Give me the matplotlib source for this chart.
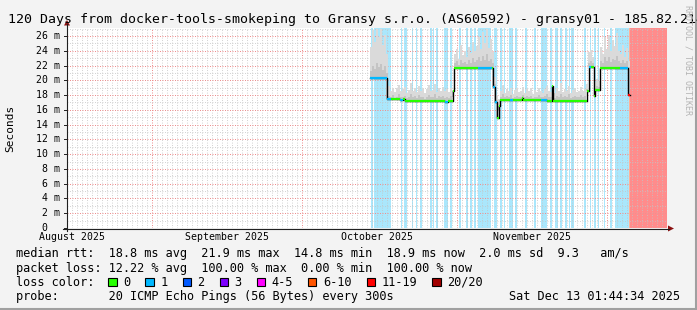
#!/usr/bin/env python3
from datetime import datetime

import matplotlib
matplotlib.use("Agg")
import matplotlib.pyplot as plt
from matplotlib.lines import Line2D
from matplotlib.patches import Polygon, Rectangle

W, H = 697, 310
FONT = "DejaVu Sans Mono"

# time axis: days since the graph start
START = datetime(2025, 8, 15, 1, 44, 34)
SPAN_DAYS = 120
MONTH_STARTS = [datetime(2025, 9, 1), datetime(2025, 10, 1), datetime(2025, 11, 1), datetime(2025, 12, 1)]
MONTH_LABEL_DATES = [datetime(2025, 8, 16), datetime(2025, 9, 16), datetime(2025, 10, 16), datetime(2025, 11, 16)]
MONTH_LABELS = ["August 2025", "September 2025", "October 2025", "November 2025"]

Y_TICKS = [0, 2, 4, 6, 8, 10, 12, 14, 16, 18, 20, 22, 24, 26]
Y_TICK_LABELS = [" 0", " 2 m", " 4 m", " 6 m", " 8 m", "10 m", "12 m", "14 m", "16 m",
                 "18 m", "20 m", "22 m", "24 m", "26 m"]

# loss background stripes (days since start)
LOSS_START = [60.8, 61.4, 66.7, 67.4, 68.9, 69.8, 70.6, 72.6, 73.1, 73.7, 75.4, 76.6, 78.3,
              79.8, 80.6, 81.3, 82.1, 85.3, 86.6, 87.3, 88.3, 88.6, 89.6, 91.6, 93.3, 94.8,
              96.6, 97.6, 98.6, 99.6, 100.3, 100.7, 103.4, 104.5, 105.4, 106.1, 107.3, 108.6,
              109.6, 112.4, 112.6]
LOSS_END = [61.2, 64.8, 67.1, 67.9, 69.3, 70.0, 70.9, 72.9, 73.4, 74.2, 76.2, 76.9, 78.7,
            80.1, 80.9, 81.7, 84.8, 85.9, 86.9, 87.5, 88.5, 89.1, 89.9, 91.9, 93.7, 95.9,
            96.9, 98.1, 98.9, 99.9, 100.5, 101.4, 103.8, 104.8, 105.8, 106.3, 107.6, 108.9,
            112.4, 112.6, 120.0]
LOSS_LEVEL = ["1"] * 39 + ["6-10", "20/20"]

# median rtt (ms), step values
MED_DAY = [60.6, 64.0, 64.8, 66.6, 67.2, 67.6, 75.5, 76.2, 77.2, 77.4, 82.2, 85.0, 85.2,
           85.6, 86.0, 86.4, 86.6, 88.6, 89.1, 91.0, 91.2, 94.8, 95.9, 96.9, 97.1, 103.9,
           104.4, 104.8, 105.3, 105.5, 106.5, 110.6, 112.2]
MED_VAL = [20.3, 17.45, 17.45, 17.4, 17.45, 17.25, 17.1, 17.25, 18.5, 21.65, 21.65, 21.65,
           19.1, 17.0, 14.9, 16.5, 17.3, 17.3, 17.3, 17.6, 17.3, 17.3, 17.25, 19.2, 17.25,
           18.55, 21.75, 21.75, 17.9, 18.65, 21.6, 21.6, 18.0]
MED_LOSS = ["1", "1", "0", "1", "0", "0", "1", "0", "0", "0", "1", "0", "1", "1", "0", "0",
            "0", "1", "0", "0", "0", "1", "0", "0", "0", "0", "1", "0", "0", "0", "0", "1",
            "11-19"]
MED_END = 112.6

# smoke (ping spread), one value per rrd step
SMOKE_START = 60.6
SMOKE_STEP = 0.4
SMOKE_MAX = [
    24.5, 26.8, 25.2, 27.0, 25.8, 26.9, 24.8, 26.2, 23.5,
    19.2, 18.6, 19.0, 18.4, 18.9, 19.4, 18.5, 18.8, 19.1, 18.3, 18.7, 19.6, 18.5, 18.9, 18.4,
    19.2, 18.6, 19.0, 18.3, 18.8, 19.3, 18.5, 18.7, 19.5, 18.4, 18.9, 18.6, 19.1, 18.5, 18.8,
    18.4, 19.0, 18.6,
    23.6, 24.2, 22.9, 24.8, 23.4, 24.0, 23.1, 24.5, 23.7, 25.2, 23.9, 24.6, 25.8, 24.3, 26.5,
    25.0, 26.9, 24.4, 25.6, 23.8,
    20.5, 18.0, 17.5,
    18.6, 19.4, 18.3, 18.8, 18.5, 19.0, 18.2, 18.7, 18.9, 18.4, 18.6, 19.1, 18.3, 18.8, 18.5,
    18.9, 18.2, 18.7, 18.4, 19.0, 18.6, 18.3, 18.8, 19.2, 18.5, 18.4, 18.7, 18.3, 18.9, 18.6,
    19.6, 18.4, 18.8, 18.5, 19.2, 18.3, 18.7, 18.9, 18.4, 18.6, 19.1, 18.5, 18.8,
    19.5, 23.8,
    24.1, 23.2, 19.8, 20.2, 19.9, 24.5, 23.6, 25.8, 24.2, 26.1, 23.9, 25.4, 24.6, 26.4, 24.0,
    23.5, 24.8, 23.2, 24.4, 22.6,
]
SMOKE_MID = [
    21.3, 22.0, 21.5, 22.4, 21.8, 22.2, 21.4, 21.9, 21.0,
    17.9, 17.7, 18.0, 17.6, 17.8, 18.1, 17.7, 17.8, 17.9, 17.6, 17.8, 18.2, 17.7, 17.9, 17.6,
    18.0, 17.7, 17.8, 17.5, 17.8, 18.0, 17.7, 17.8, 18.1, 17.6, 17.9, 17.7, 17.9, 17.6, 17.8,
    17.6, 17.9, 17.7,
    22.3, 22.6, 22.1, 22.8, 22.3, 22.5, 22.2, 22.7, 22.4, 23.0, 22.5, 22.7, 23.1, 22.6, 23.3,
    22.8, 23.5, 22.6, 22.9, 22.3,
    19.5, 17.4, 16.0,
    17.8, 18.1, 17.7, 17.9, 17.8, 18.0, 17.6, 17.8, 17.9, 17.7, 17.8, 18.0, 17.7, 17.9, 17.8,
    17.9, 17.6, 17.8, 17.7, 18.0, 17.8, 17.7, 17.9, 18.1, 17.8, 17.7, 17.8, 17.6, 17.9, 17.8,
    18.2, 17.7, 17.9, 17.8, 18.1, 17.6, 17.8, 17.9, 17.7, 17.8, 18.0, 17.7, 17.9,
    18.8, 22.4,
    22.6, 22.3, 19.0, 19.2, 19.1, 22.6, 22.4, 23.1, 22.6, 23.2, 22.5, 22.9, 22.7, 23.3, 22.6,
    22.4, 22.8, 22.3, 22.6, 21.8,
]

LEGEND_LOSS = ["0", "1", "2", "3", "4-5", "6-10", "11-19", "20/20"]
LOSS_COLORS = {"0": "#26ff00", "1": "#00b8ff", "2": "#0059ff", "3": "#7e00ff",
               "4-5": "#ff00ff", "6-10": "#ff5500", "11-19": "#ff0000", "20/20": "#a10000"}
LOSS_BG = {"1": "#aae7fc", "6-10": "#ffb29a", "20/20": "#ff8c8c"}

TITLE = "120 Days from docker-tools-smokeping to Gransy s.r.o. (AS60592) - gransy01 - 185.82.214.1"
STATS = [
    "median rtt:  18.8 ms avg  21.9 ms max  14.8 ms min  18.9 ms now  2.0 ms sd  9.3   am/s",
    "packet loss: 12.22 % avg  100.00 % max  0.00 % min  100.00 % now",
]
PROBE = "probe:       20 ICMP Echo Pings (56 Bytes) every 300s"
STAMP = "Sat Dec 13 01:44:34 2025"


def days(dt):
    return (dt - START).total_seconds() / 86400.0


def fx(x):
    return x / W


def fy(y):
    return 1 - y / H


def median_at(d):
    val = MED_VAL[0]
    for start, v in zip(MED_DAY, MED_VAL):
        if d >= start:
            val = v
    return val


fig = plt.figure(figsize=(W / 100, H / 100), dpi=100)
fig.patch.set_facecolor("#f3f3f3")

PX_PER_MS = 7.385
top_px = 27.7
ax = fig.add_axes([fx(67), fy(228), 600 / W, (228 - top_px) / H])
ax.set_xlim(0, SPAN_DAYS)
ax.set_ylim(0, (228 - top_px) / PX_PER_MS)
ax.set_facecolor("white")
for s in ax.spines.values():
    s.set_visible(False)
ax.set_xticks([])
ax.set_yticks([])

# loss stripes
for a, b, lvl in zip(LOSS_START, LOSS_END, LOSS_LEVEL):
    ax.axvspan(a, b, color=LOSS_BG[lvl], lw=0, zorder=1, antialiased=False)

# grid
dot = (0, (1, 2))
month_days = [days(m) for m in MONTH_STARTS]
d0 = days(datetime(2025, 8, 16))
k = 0
while d0 + k < SPAN_DAYS:
    d = d0 + k
    if all(abs(d - m) > 0.01 for m in month_days):
        ax.axvline(d, color="#c4c4c4", lw=0.6, ls=dot, zorder=2)
    k += 1
for m in month_days:
    ax.axvline(m, color="#ee9090", lw=0.72, ls=(0, (1, 1.5)), zorder=2)
for v in range(1, 28):
    if v % 2:
        ax.axhline(v, color="#c4c4c4", lw=0.6, ls=dot, zorder=2)
    else:
        ax.axhline(v, color="#ee9090", lw=0.72, ls=(0, (1, 1.5)), zorder=2)

# smoke
lefts = [SMOKE_START + i * SMOKE_STEP for i in range(len(SMOKE_MAX))]
bottoms = [median_at(l + SMOKE_STEP / 2) for l in lefts]
ax.bar(lefts, [t - b for t, b in zip(SMOKE_MAX, bottoms)], bottom=bottoms, width=SMOKE_STEP,
       align="edge", color="#dadada", lw=0, zorder=3)
ax.bar(lefts, [t - b for t, b in zip(SMOKE_MID, bottoms)], bottom=bottoms, width=SMOKE_STEP,
       align="edge", color="#c4c4c4", lw=0, zorder=3)

# median
xs = MED_DAY + [MED_END]
ys = MED_VAL + [MED_VAL[-1]]
ax.step(xs, ys, where="post", color="#000000", lw=1.0, zorder=4)
ax.hlines(MED_VAL, MED_DAY, MED_DAY[1:] + [MED_END],
          colors=[LOSS_COLORS[l] for l in MED_LOSS], lw=1.6, zorder=5)

# axes lines with arrows
fig.add_artist(Line2D([fx(67), fx(67)], [fy(231), fy(24)], color="#202020", lw=0.8))
fig.add_artist(Line2D([fx(63), fx(669)], [fy(228.5), fy(228.5)], color="#202020", lw=0.8))
fig.add_artist(Polygon([[fx(64), fy(25.5)], [fx(70), fy(25.5)], [fx(67), fy(20)]],
                       closed=True, color="#8b1010", lw=0))
fig.add_artist(Polygon([[fx(668), fy(225.5)], [fx(668), fy(231.5)], [fx(674), fy(228.5)]],
                       closed=True, color="#8b1010", lw=0))

# y ticks + labels
for v, lab in zip(Y_TICKS, Y_TICK_LABELS):
    yp = 228 - v * PX_PER_MS
    fig.add_artist(Line2D([fx(64), fx(67)], [fy(yp), fy(yp)], color="#202020", lw=0.7))
    fig.text(fx(36), fy(yp), lab, ha="left", va="center", fontsize=7.1, family=FONT,
             color="#000000")

# month labels
for dt, lab in zip(MONTH_LABEL_DATES, MONTH_LABELS):
    xp = 67 + days(dt) * 5.0
    fig.text(fx(xp), fy(237.5), lab, ha="center", va="center", fontsize=7.1, family=FONT)

# title, y label, watermark
fig.text(fx(8), fy(23.5), TITLE, ha="left", va="baseline", fontsize=9.57, family=FONT)
fig.text(fx(10), fy(128), "Seconds", rotation=90, ha="center", va="center",
         fontsize=8.0, family=FONT)
fig.text(fx(688), fy(5), "RRDTOOL / TOBI OETIKER", rotation=-90, ha="center", va="top",
         fontsize=6.0, family=FONT, color="#b4b4b4")

# legend rows
CW = 7.128
fs = 8.52
fig.text(fx(16), fy(257.5), STATS[0], ha="left", va="baseline", fontsize=fs, family=FONT)
fig.text(fx(16), fy(271.7), STATS[1], ha="left", va="baseline", fontsize=fs, family=FONT)
fig.text(fx(16), fy(285.7), "loss color:", ha="left", va="baseline", fontsize=fs, family=FONT)
bx = 108.3
for lab in LEGEND_LOSS:
    fig.add_artist(Rectangle((fx(bx), fy(286)), 8.3 / W, 8.3 / H, facecolor=LOSS_COLORS[lab],
                             edgecolor="#000000", lw=0.8))
    fig.text(fx(bx + 15), fy(285.7), lab, ha="left", va="baseline", fontsize=fs, family=FONT)
    bx = bx + 15 + len(lab) * CW + 15
fig.text(fx(16), fy(300), PROBE, ha="left", va="baseline", fontsize=fs, family=FONT)
fig.text(fx(680), fy(300), STAMP, ha="right", va="baseline", fontsize=fs, family=FONT)

# canvas shading
fig.add_artist(Line2D([0, 1], [fy(309), fy(309)], color="#a0a0a0", lw=1.5))
fig.add_artist(Line2D([fx(696), fx(696)], [0, 1], color="#a0a0a0", lw=1.5))

fig.savefig("out.png", dpi=100, facecolor=fig.get_facecolor())
